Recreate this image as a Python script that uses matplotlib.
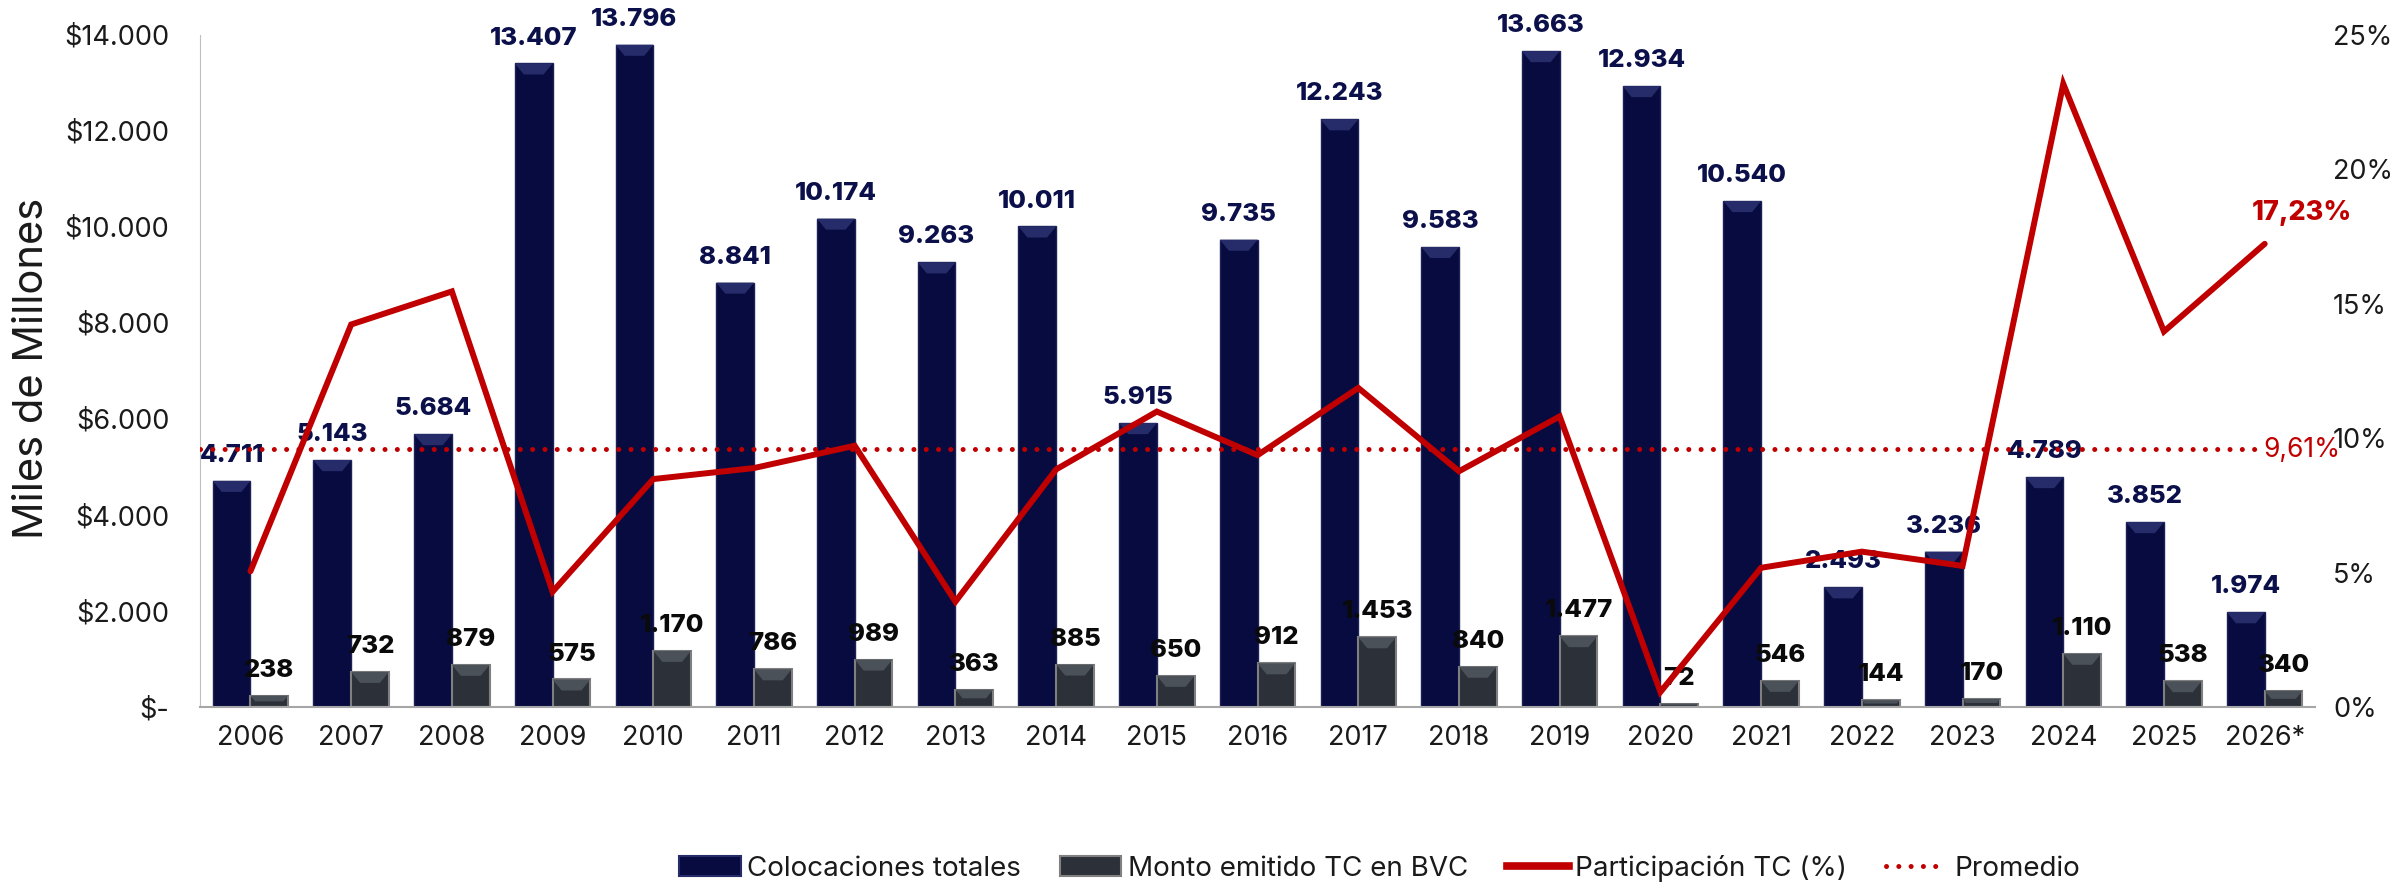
import matplotlib.pyplot as plt
import matplotlib.patches as mpatches
from matplotlib.lines import Line2D
from matplotlib.ticker import FuncFormatter
import numpy as np

plt.rcParams['font.family'] = ['Inter', 'DejaVu Sans']

# Datos del gráfico
years = ['2006', '2007', '2008', '2009', '2010', '2011', '2012', '2013', '2014', '2015',
         '2016', '2017', '2018', '2019', '2020', '2021', '2022', '2023', '2024', '2025', '2026*']
colocaciones = [4711, 5143, 5684, 13407, 13796, 8841, 10174, 9263, 10011, 5915,
                9735, 12243, 9583, 13663, 12934, 10540, 2493, 3236, 4789, 3852, 1974]
monto_tc = [238, 732, 879, 575, 1170, 786, 989, 363, 885, 650,
            912, 1453, 840, 1477, 72, 546, 144, 170, 1110, 538, 340]
participacion = [5.05, 14.23, 15.46, 4.29, 8.48, 8.89, 9.72, 3.92, 8.84, 10.99,
                 9.37, 11.87, 8.77, 10.81, 0.56, 5.18, 5.78, 5.25, 23.18, 13.97, 17.23]
promedio = 9.61

NAVY = '#070B40'
NAVY_TOP = '#262C6A'
GRAY = '#2C3139'
GRAY_TOP = '#4B5159'
RED = '#C00000'
TXT = '#1A1A1A'


def add_bevel(ax, bars, color):
    """Simula el bisel superior de las barras de Excel"""
    for bar in bars:
        x0 = bar.get_x()
        bw = bar.get_width()
        h = bar.get_height()
        bh = min(230, h * 0.5)
        inset = 0.09 * bh / 230
        poly = [(x0, h), (x0 + bw, h), (x0 + bw - inset, h - bh), (x0 + inset, h - bh)]
        ax.add_patch(mpatches.Polygon(poly, closed=True, facecolor=color,
                                      edgecolor='none', zorder=3))


fig = plt.figure(figsize=(24.05, 8.85), dpi=100)
ax = fig.add_axes([0.0832, 0.2011, 0.8794, 0.7594])

x = np.arange(len(years))
w = 0.375
bars1 = ax.bar(x - w/2, colocaciones, w, color=NAVY, edgecolor='#1C2156', linewidth=1, zorder=2)
bars2 = ax.bar(x + w/2, monto_tc, w, color=GRAY, edgecolor='#7F7F7F', linewidth=1.5, zorder=2)
add_bevel(ax, bars1, NAVY_TOP)
add_bevel(ax, bars2, GRAY_TOP)

# Etiquetas de valores
for bar, v in zip(bars1, colocaciones):
    ax.annotate(f'{v:,}'.replace(',', '.'), (bar.get_x() + bar.get_width()/2, v),
                xytext=(0, 10), textcoords='offset points', ha='center', va='bottom',
                fontsize=18.5, fontweight='heavy', color='#0B0F4A', zorder=4)
for bar, v in zip(bars2, monto_tc):
    ax.annotate(f'{v:,}'.replace(',', '.'), (bar.get_x() + bar.get_width()/2, v),
                xytext=(0, 10), textcoords='offset points', ha='center', va='bottom',
                fontsize=18.5, fontweight='heavy', color='#0A0A0A', zorder=4)

ax.set_xlim(-0.5, len(years) - 0.5)
ax.set_ylim(0, 14000)
ax.set_yticks(np.arange(0, 14001, 2000))
ax.yaxis.set_major_formatter(FuncFormatter(
    lambda v, p: '$-' if v == 0 else '$' + f'{v:,.0f}'.replace(',', '.')))
ax.set_xticks(x)
ax.set_xticklabels(years)
ax.tick_params(axis='y', length=0, pad=22, labelsize=19.5, labelcolor=TXT)
ax.tick_params(axis='x', length=0, pad=13, labelsize=19.5, labelcolor=TXT)
ax.spines['top'].set_visible(False)
ax.spines['right'].set_visible(False)
ax.spines['left'].set_color('#BFBFBF')
ax.spines['bottom'].set_color('#A6A6A6')
ax.spines['bottom'].set_linewidth(1.5)

fig.text(0.0135, 0.584, 'Miles de Millones', rotation=90, ha='center', va='center',
         fontsize=30, color=TXT)

# Eje secundario: participación
ax2 = ax.twinx()
ax2.plot(x, participacion, color=RED, lw=4.3, solid_joinstyle='miter',
         solid_capstyle='round', zorder=5)
ax2.plot([ax.get_xlim()[0], x[-1]], [promedio, promedio], color=RED, lw=3.6,
         linestyle=(0, (0.01, 2.45)), dash_capstyle='round', zorder=4)
ax2.set_ylim(0, 25)
ax2.set_yticks(np.arange(0, 26, 5))
ax2.yaxis.set_major_formatter(FuncFormatter(lambda v, p: f'{v:.0f}%'))
ax2.tick_params(axis='y', length=0, pad=13, labelsize=19.5, labelcolor=TXT)
for s in ax2.spines.values():
    s.set_visible(False)

ax2.annotate(f'{participacion[-1]:.2f}%'.replace('.', ','), (x[-1], participacion[-1]),
             xytext=(27, 22), textcoords='offset points', ha='center', va='center',
             fontsize=19.5, fontweight='heavy', color=RED)
ax2.annotate(f'{promedio:.2f}%'.replace('.', ','), (x[-1], promedio),
             xytext=(-1, -1), textcoords='offset points', ha='left', va='center',
             fontsize=19, color=RED)

# Leyenda
handles = [
    mpatches.Patch(facecolor=NAVY, edgecolor=NAVY_TOP, linewidth=1.5),
    mpatches.Patch(facecolor=GRAY, edgecolor='#808080', linewidth=1.5),
    Line2D([0], [0], color=RED, lw=5.5),
    Line2D([0], [0], color=RED, lw=3.6, linestyle=(0, (0.01, 2.45)), dash_capstyle='round'),
]
labels = ['Colocaciones totales', 'Monto emitido TC en BVC', 'Participación TC (%)', 'Promedio']
fig.legend(handles, labels, loc='center', bbox_to_anchor=(0.5737, 0.019), ncol=4,
           frameon=False, fontsize=20, handlelength=2.2, handletextpad=0.25,
           columnspacing=1.4, labelcolor=TXT)

fig.savefig('out.png', dpi=100)
